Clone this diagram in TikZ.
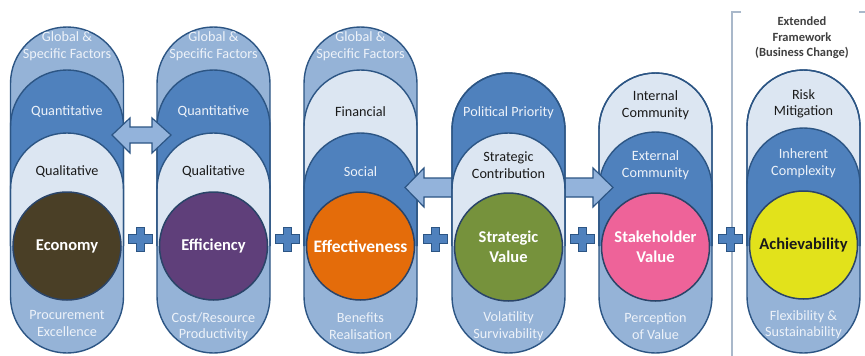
\documentclass[tikz,border=0pt]{standalone}
\usepackage{fontspec}
\setmainfont{Carlito}
\definecolor{medb}{HTML}{95B3D7}
\definecolor{darkb}{HTML}{4F81BD}
\definecolor{lightb}{HTML}{DCE6F2}
\definecolor{bdr}{HTML}{2C5584}
\definecolor{cbdr}{HTML}{2A4468}
\definecolor{ltxt}{HTML}{EDF2F9}
\definecolor{dtxt}{HTML}{1A1A1A}
\definecolor{arrf}{HTML}{93B3DB}
\definecolor{brk}{HTML}{A9B8CA}
\definecolor{ecoc}{HTML}{4A3F26}
\definecolor{effc}{HTML}{5F3F7A}
\definecolor{effvc}{HTML}{E46C0A}
\definecolor{svc}{HTML}{76923C}
\definecolor{shc}{HTML}{EE6399}
\definecolor{achc}{HTML}{E2E21B}
\definecolor{extc}{HTML}{404040}
\newcommand{\pdome}[3]{%
  \fill[#3] ({#1-56.5},246) -- ({#1-56.5},{#2+56.5}) arc[start angle=180,end angle=0,radius=56.5pt] -- ({#1+56.5},246) -- cycle;
  \draw[bline] ({#1-56.5},246) -- ({#1-56.5},{#2+56.5}) arc[start angle=180,end angle=0,radius=56.5pt] -- ({#1+56.5},246);}
\newcommand{\pcol}[6]{%
  \fill[medb] ({#1-56.5},{#2+56.5}) arc[start angle=180,end angle=0,radius=56.5pt] -- ({#1+56.5},296.5) arc[start angle=0,end angle=-180,radius=56.5pt] -- cycle;
  \pdome{#1}{#3}{#4}
  \pdome{#1}{#5}{#6}
  \draw[bline] ({#1-56.5},{#2+56.5}) arc[start angle=180,end angle=0,radius=56.5pt] -- ({#1+56.5},296.5) arc[start angle=0,end angle=-180,radius=56.5pt] -- cycle;}
\newcommand{\pplus}[2]{%
  \filldraw[fill=darkb,draw=bdr,line width=1pt] ({#1-12},{#2-4.5}) -- ({#1-4},{#2-4.5}) -- ({#1-4},{#2-12}) -- ({#1+4},{#2-12}) -- ({#1+4},{#2-4.5}) -- ({#1+12},{#2-4.5}) -- ({#1+12},{#2+4.5}) -- ({#1+4},{#2+4.5}) -- ({#1+4},{#2+12}) -- ({#1-4},{#2+12}) -- ({#1-4},{#2+4.5}) -- ({#1-12},{#2+4.5}) -- cycle;}
\tikzset{
  bline/.style={draw=bdr, line width=1.4pt},
  lab/.style={align=center, font=\fontsize{14.2}{16.5}\selectfont, inner sep=0pt},
  onlt/.style={lab, text=dtxt},
  ondk/.style={lab, text=ltxt},
  ball/.style={circle, draw=cbdr, line width=1.5pt, minimum size=108pt, inner sep=0pt, align=center, font=\bfseries\fontsize{16.5}{20}\selectfont},
  blockarrow/.style={fill=arrf, draw=bdr, line width=1.2pt, line join=miter},
}
\begin{document}
\begin{tikzpicture}[x=1pt,y=-1pt]
\useasboundingbox (0,0) rectangle (865,356);
\fill[white] (0,0) rectangle (865,356);
% bracket
\draw[brk, line width=1.2pt] (741,12) -- (732,12) -- (732,356);
\draw[brk, line width=1.2pt] (859,12) -- (865,12);
% columns except 4
\pcol{67}{27}{70}{darkb}{133}{lightb}
\pcol{213.5}{27}{70}{darkb}{133}{lightb}
\pcol{360.5}{27}{70}{lightb}{133}{darkb}
\pcol{655.5}{73}{73}{lightb}{132}{darkb}
\pcol{803.5}{70}{70}{lightb}{128}{darkb}
% circles
\node[ball, fill=ecoc, text=white] (eco) at (67,246) {Economy};
\node[ball, fill=effc, text=white] (eff) at (213.5,246) {Efficiency};
\node[ball, fill=effvc, text=white, font=\bfseries\fontsize{17.5}{20}\selectfont] (effv) at (360.5,246) {Effectiveness};
\node[ball, fill=shc, text=white] (sh) at (655.5,247) {Stakeholder\\Value};
\node[ball, fill=achc, text=dtxt] (ach) at (803.5,245) {Achievability};
% arrows
\filldraw[blockarrow] (112,135) -- (130,118) -- (130,127) -- (152,127) -- (152,118) -- (171,135) -- (152,153) -- (152,143) -- (130,143) -- (130,153) -- cycle;
\filldraw[blockarrow] (405,187.5) -- (424,168) -- (424,178) -- (593,178) -- (593,168) -- (613,187.5) -- (593,207) -- (593,197) -- (424,197) -- (424,207) -- cycle;
% column 4
\pcol{508.5}{73}{73}{darkb}{133}{lightb}
\node[ball, fill=svc, text=white] (sv) at (508.5,247) {Strategic\\Value};
% plus signs
\pplus{140}{239}
\pplus{287}{239}
\pplus{435}{239}
\pplus{582}{239}
\pplus{730}{239}
% labels column 1
\node[ondk] (c1a) at (67,46) {Global \&\\Specific Factors};
\node[ondk] (c1b) at (67,112) {Quantitative};
\node[onlt] (c1c) at (67,172) {Qualitative};
\node[ondk] (c1d) at (67,323.5) {Procurement\\Excellence};
% column 2
\node[ondk] (c2a) at (213.5,46) {Global \&\\Specific Factors};
\node[ondk] (c2b) at (213.5,112) {Quantitative};
\node[onlt] (c2c) at (213.5,172) {Qualitative};
\node[ondk] (c2d) at (213.5,326.5) {Cost/Resource\\Productivity};
% column 3
\node[ondk] (c3a) at (360.5,46) {Global \&\\Specific Factors};
\node[onlt] (c3b) at (360.5,112) {Financial};
\node[ondk] (c3c) at (360.5,172) {Social};
\node[ondk] (c3d) at (360.5,326) {Benefits\\Realisation};
% column 4
\node[ondk] (c4a) at (508.5,113) {Political Priority};
\node[onlt] (c4b) at (508.5,165) {Strategic\\Contribution};
\node[ondk] (c4c) at (508.5,326) {Volatility\\Survivability};
% column 5
\node[onlt] (c5a) at (655.5,105) {Internal\\Community};
\node[ondk] (c5b) at (655.5,165) {External\\Community};
\node[ondk] (c5c) at (655.5,326) {Perception\\of Value};
% column 6
\node[onlt] (c6a) at (803.5,104) {Risk\\Mitigation};
\node[ondk] (c6b) at (803.5,163) {Inherent\\Complexity};
\node[ondk] (c6c) at (803.5,324.5) {Flexibility \&\\Sustainability};
\node[align=center, inner sep=0pt, text=extc, font=\bfseries\fontsize{12.5}{15.5}\selectfont] (ext) at (802,38) {Extended\\Framework\\(Business Change)};
\end{tikzpicture}
\end{document}
